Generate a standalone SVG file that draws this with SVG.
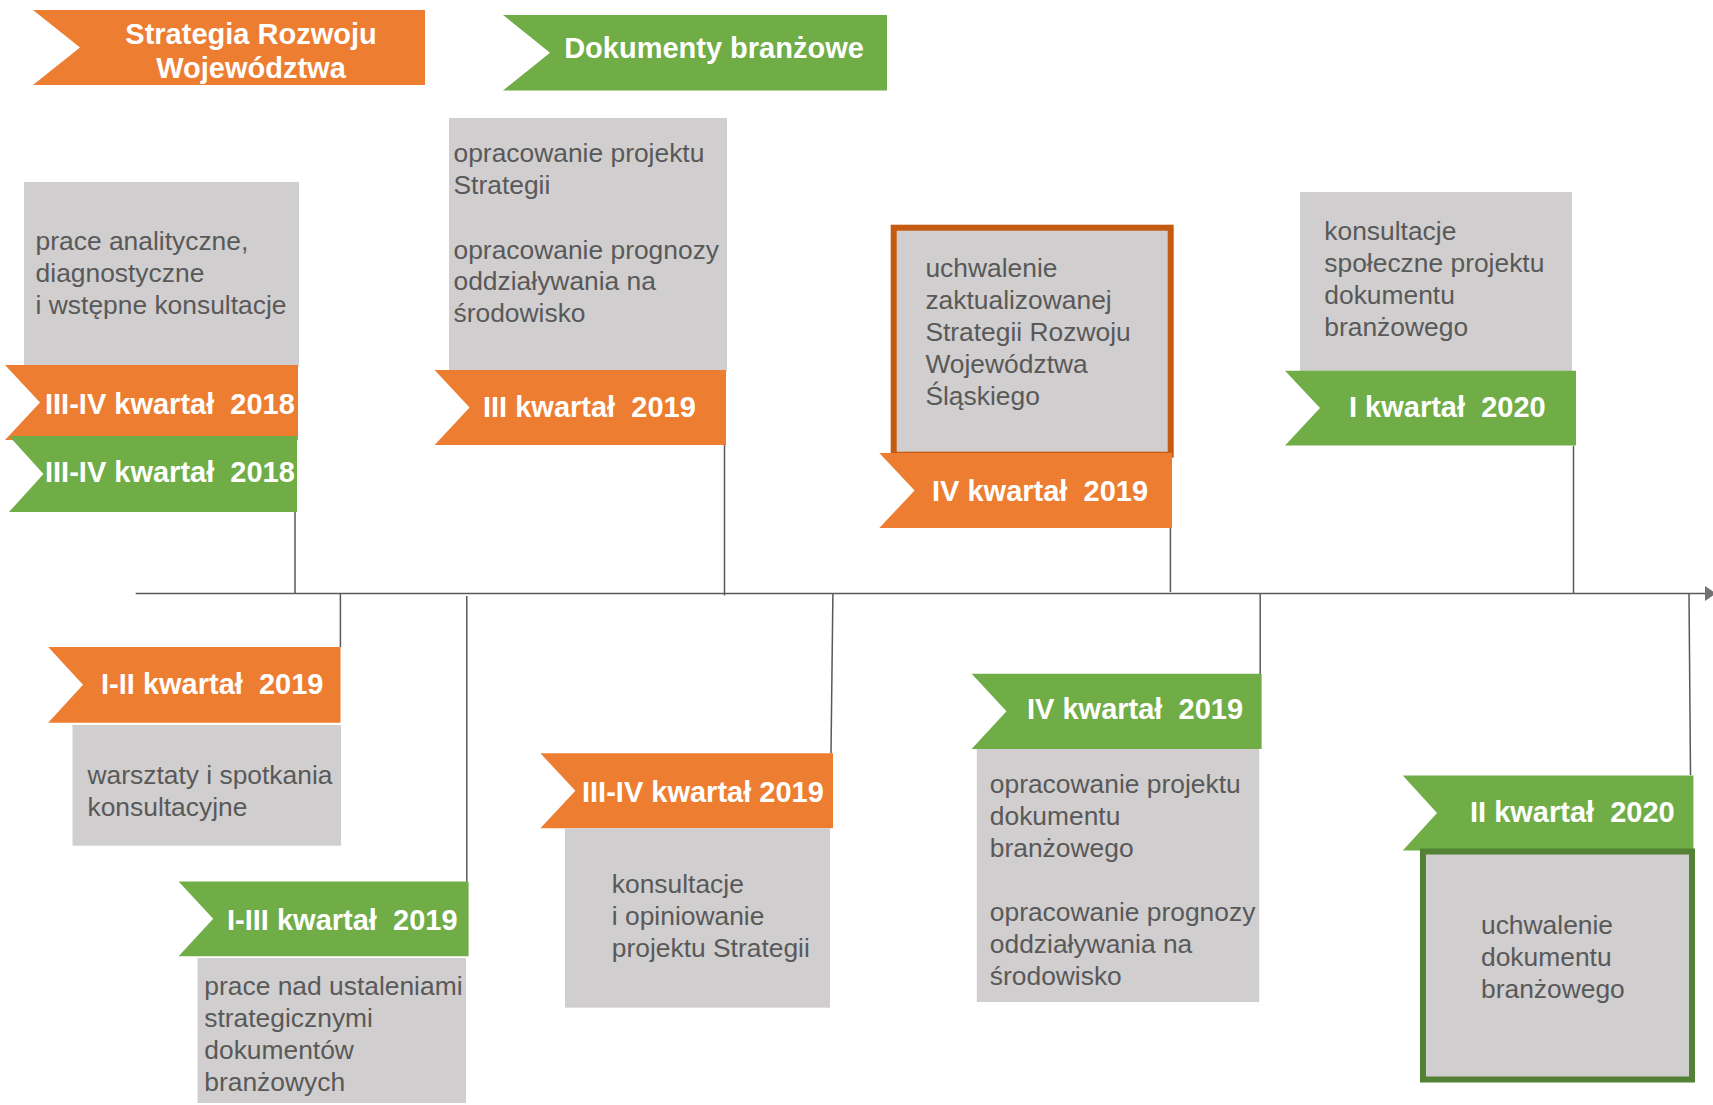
<svg xmlns="http://www.w3.org/2000/svg" width="1713" height="1105" viewBox="0 0 1713 1105">
<style>
.bg{fill:#ffffff}
.or{fill:#ED7D31}
.gr{fill:#70AD47}
.box{fill:#D0CECE}
.box-or{fill:#D0CECE;stroke:#C55A11;stroke-width:6}
.box-gr{fill:#D0CECE;stroke:#538135;stroke-width:6}
.lab{font-family:"Liberation Sans",Arial,sans-serif;font-weight:bold;font-size:29px;fill:#ffffff;white-space:pre}
.txt{font-family:"Liberation Sans",Arial,sans-serif;font-size:26.4px;fill:#595959}
.conn line{stroke:#595959;stroke-width:1.5}
.axis{stroke:#767171;stroke-width:2.5}
</style>
<rect class="bg" x="0" y="0" width="1713" height="1105"/>

<g id="legend-strategia">
<polygon class="or" points="33,10 80,47.5 33,85 425,85 425,10"/>
<text class="lab" x="251" y="43.5" text-anchor="middle">Strategia Rozwoju</text>
<text class="lab" x="251" y="78" text-anchor="middle">Województwa</text>
</g>
<g id="legend-dokumenty">
<polygon class="gr" points="503,15 550,52.7 503,90.5 887,90.5 887,15"/>
<text class="lab" x="714" y="58" text-anchor="middle">Dokumenty branżowe</text>
</g>

<g id="conn" class="conn">
<line x1="295" y1="512" x2="295" y2="593"/>
<line x1="724.5" y1="445" x2="724.5" y2="595.5"/>
<line x1="1170.4" y1="528" x2="1170.4" y2="592"/>
<line x1="1573.5" y1="446" x2="1573.5" y2="593"/>
<line x1="340.4" y1="594" x2="340.4" y2="647"/>
<line x1="466.8" y1="596" x2="466.8" y2="881.5"/>
<line x1="832.9" y1="594" x2="831" y2="753.5"/>
<line x1="1260.2" y1="594" x2="1260.2" y2="674"/>
<line x1="1689" y1="594" x2="1690.5" y2="775"/>
<line class="axis" x1="135.7" y1="593.5" x2="1707" y2="593.5"/>
<polygon points="1705,586 1716,593.5 1705,601" fill="#767171"/>
</g>

<g id="n1">
<rect class="box" x="24" y="182" width="275" height="184.5"/>
<text class="txt" x="35.6" y="250">prace analityczne,</text>
<text class="txt" x="35.6" y="282">diagnostyczne</text>
<text class="txt" x="35.6" y="314">i wstępne konsultacje</text>
<polygon class="or" points="5,365 40,402.5 5,440 298,440 298,365"/>
<text class="lab" x="45" y="414">III-IV kwartał  2018</text>
<polygon class="gr" points="9,436 43.5,474 9,512 297,512 297,436"/>
<text class="lab" x="45" y="482">III-IV kwartał  2018</text>
</g>

<g id="n2">
<rect class="box" x="449" y="118" width="278" height="253"/>
<text class="txt" x="453.5" y="162">opracowanie projektu</text>
<text class="txt" x="453.5" y="193.6">Strategii</text>
<text class="txt" x="453.5" y="258.5">opracowanie prognozy</text>
<text class="txt" x="453.5" y="290">oddziaływania na</text>
<text class="txt" x="453.5" y="321.5">środowisko</text>
<polygon class="or" points="434.6,370 469.6,407.5 434.6,445 726,445 726,370"/>
<text class="lab" x="483" y="417">III kwartał  2019</text>
</g>

<g id="n3">
<rect class="box-or" x="893.7" y="227.7" width="277" height="227"/>
<text class="txt" x="925.4" y="277">uchwalenie</text>
<text class="txt" x="925.4" y="309">zaktualizowanej</text>
<text class="txt" x="925.4" y="341">Strategii Rozwoju</text>
<text class="txt" x="925.4" y="373">Województwa</text>
<text class="txt" x="925.4" y="405">Śląskiego</text>
<polygon class="or" points="879.3,453 914.6,490.5 879.3,528 1172,528 1172,453"/>
<text class="lab" x="932" y="501">IV kwartał  2019</text>
</g>

<g id="n4">
<rect class="box" x="1300" y="192" width="272" height="179"/>
<text class="txt" x="1324.3" y="240">konsultacje</text>
<text class="txt" x="1324.3" y="272">społeczne projektu</text>
<text class="txt" x="1324.3" y="304">dokumentu</text>
<text class="txt" x="1324.3" y="336">branżowego</text>
<polygon class="gr" points="1285,370.7 1320,408 1285,445.5 1576,445.5 1576,370.7"/>
<text class="lab" x="1349" y="417">I kwartał  2020</text>
</g>

<g id="n5">
<polygon class="or" points="48.2,647 83,684.8 48.2,722.7 340.5,722.7 340.5,647"/>
<text class="lab" x="101" y="694">I-II kwartał  2019</text>
<rect class="box" x="72.5" y="725" width="268.5" height="120.7"/>
<text class="txt" x="87.5" y="784.2">warsztaty i spotkania</text>
<text class="txt" x="87.5" y="816">konsultacyjne</text>
</g>

<g id="n6">
<polygon class="gr" points="178.6,881.5 213.2,918.8 178.6,956.2 468.6,956.2 468.6,881.5"/>
<text class="lab" x="227" y="930">I-III kwartał  2019</text>
<rect class="box" x="197.5" y="958" width="268.5" height="145"/>
<text class="txt" x="204.3" y="994.5">prace nad ustaleniami</text>
<text class="txt" x="204.3" y="1026.5">strategicznymi</text>
<text class="txt" x="204.3" y="1058.5">dokumentów</text>
<text class="txt" x="204.3" y="1090.5">branżowych</text>
</g>

<g id="n7">
<polygon class="or" points="540.4,753.3 575.4,790.8 540.4,828.3 833,828.3 833,753.3"/>
<text class="lab" x="582" y="801.6">III-IV kwartał 2019</text>
<rect class="box" x="565" y="828.3" width="265" height="179.4"/>
<text class="txt" x="611.8" y="893">konsultacje</text>
<text class="txt" x="611.8" y="925">i opiniowanie</text>
<text class="txt" x="611.8" y="956.5">projektu Strategii</text>
</g>

<g id="n8">
<polygon class="gr" points="971.6,673.7 1006.5,711.3 971.6,749 1261.6,749 1261.6,673.7"/>
<text class="lab" x="1027" y="718.5">IV kwartał  2019</text>
<rect class="box" x="976.8" y="749" width="282.4" height="253"/>
<text class="txt" x="989.8" y="793">opracowanie projektu</text>
<text class="txt" x="989.8" y="825">dokumentu</text>
<text class="txt" x="989.8" y="857">branżowego</text>
<text class="txt" x="989.8" y="921">opracowanie prognozy</text>
<text class="txt" x="989.8" y="953">oddziaływania na</text>
<text class="txt" x="989.8" y="985">środowisko</text>
</g>

<g id="n9">
<polygon class="gr" points="1402.8,775.5 1437,813 1402.8,850.6 1693.4,850.6 1693.4,775.5"/>
<text class="lab" x="1470" y="822">II kwartał  2020</text>
<rect class="box-gr" x="1423" y="851.5" width="269" height="228"/>
<text class="txt" x="1481" y="934">uchwalenie</text>
<text class="txt" x="1481" y="966">dokumentu</text>
<text class="txt" x="1481" y="998">branżowego</text>
</g>
</svg>
